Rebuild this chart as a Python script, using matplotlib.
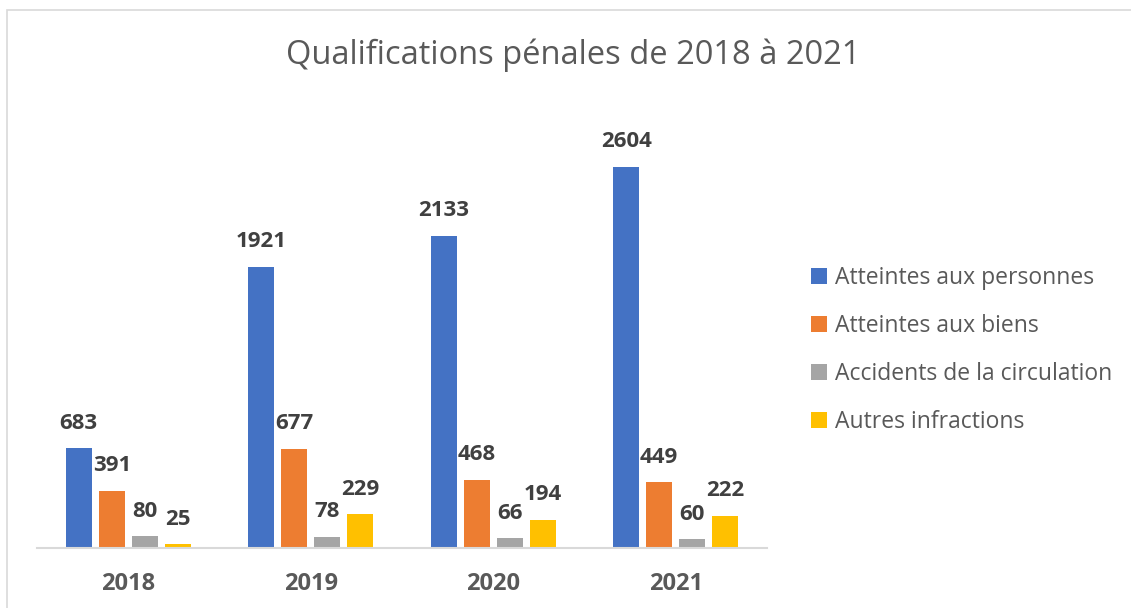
import numpy as np
import matplotlib.pyplot as plt
from matplotlib.patches import Rectangle

# data
years = ["2018", "2019", "2020", "2021"]
series = ["Atteintes aux personnes", "Atteintes aux biens",
          "Accidents de la circulation", "Autres infractions"]
personnes = [683, 1921, 2133, 2604]
biens = [391, 677, 468, 449]
accidents = [80, 78, 66, 60]
autres = [25, 229, 194, 222]
colors = ["#4472C4", "#ED7D31", "#A5A5A5", "#FFC000"]

plt.rcParams['font.family'] = ['Open Sans', 'DejaVu Sans']

fig = plt.figure(figsize=(11.31, 6.08), dpi=100)
W, H = 1131, 608
ax = fig.add_axes([37 / W, 1 - 548 / H, 730 / W, (548 - 109) / H])

# chart frame (clipped at right and bottom like the screenshot)
fig.patches.append(Rectangle((7 / W, -0.1), 1.2, 1 - 10 / H + 0.1,
                             transform=fig.transFigure, fill=False,
                             edgecolor="#d9d9d9", lw=1.2))

x = np.arange(len(years))
width = 26 / 182.5
step = 33 / 182.5
for i, (vals, name) in enumerate(zip([personnes, biens, accidents, autres], series)):
    pos = x + (i - 1.5) * step
    bars = ax.bar(pos, vals, width, color=colors[i], label=name)
    for b, v in zip(bars, vals):
        ax.annotate(str(v), (b.get_x() + b.get_width() / 2, v),
                    xytext=(0, 18), textcoords="offset points",
                    ha="center", va="center", fontsize=16,
                    fontweight="bold", color="#404040")

ax.set_xlim(-0.5, 3.5)
ax.set_ylim(0, 3000)
ax.set_xticks(x)
ax.set_xticklabels(years, fontsize=17, fontweight="bold", color="#595959")
ax.tick_params(axis="x", length=0, pad=17)
ax.set_yticks([])
for s in ["top", "right", "left"]:
    ax.spines[s].set_visible(False)
ax.spines["bottom"].set_color("#d9d9d9")
ax.spines["bottom"].set_linewidth(1.5)

fig.text(573 / W, 1 - 55 / H, "Qualifications pénales de 2018 à 2021",
         ha="center", va="center", fontsize=23.5, color="#595959")

leg = fig.legend(loc="upper left", bbox_to_anchor=(790 / W, 1 - 245 / H),
                 frameon=False, fontsize=16.5, handlelength=0.7,
                 handleheight=0.7, handletextpad=0.35, labelspacing=1.05,
                 labelcolor="#595959")

fig.savefig("out.png", dpi=100)
